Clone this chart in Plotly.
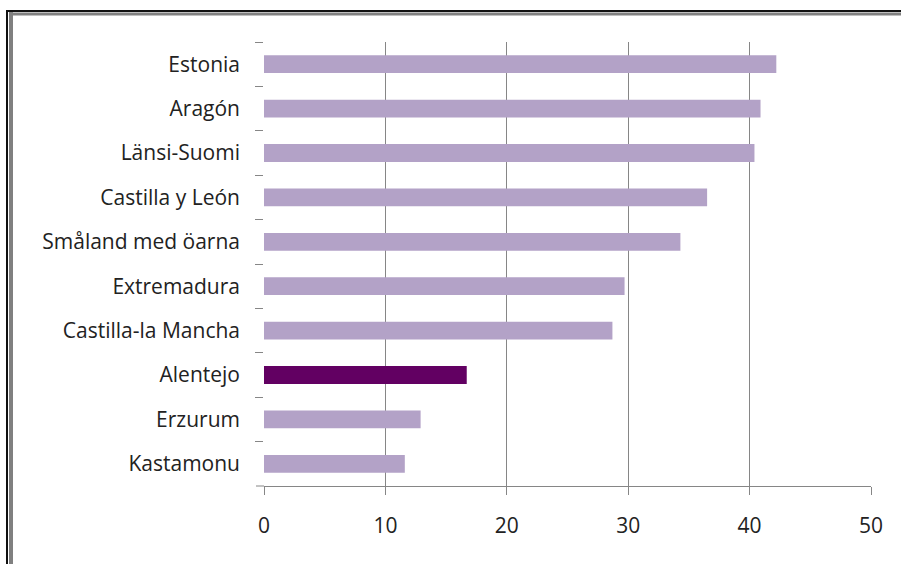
import plotly.graph_objects as go

# Regions, top to bottom, and their values
regions = ["Estonia", "Aragón", "Länsi-Suomi", "Castilla y León", "Småland med öarna",
           "Extremadura", "Castilla-la Mancha", "Alentejo", "Erzurum", "Kastamonu"]
values = [42.2, 40.9, 40.4, 36.5, 34.3, 29.7, 28.7, 16.7, 12.9, 11.6]
highlight = "Alentejo"
x_ticks = [0, 10, 20, 30, 40, 50]

BASE = "#B3A2C7"
HIGH = "#620062"
GRID = "#868686"

W, H = 901, 564
L, R, T, B = 264, 30, 42, 78
pw, ph = W - L - R, H - T - B

def px(x):
    return (x - L) / pw

def py(y):
    return (H - B - y) / ph

fig = go.Figure(go.Bar(
    y=regions,
    x=values,
    orientation="h",
    marker=dict(color=[HIGH if r == highlight else BASE for r in regions], line_width=0),
    width=0.4,
    hoverinfo="x+y",
))

# Double frame (dark outer line, grey inner line) on the top and left edges
frame = [
    (6, 10, 8, H + 5, "#111111"),
    (9, 12, 13, H + 5, "#808080"),
    (6, 10, W + 5, 12, "#111111"),
    (9, 12.5, W + 5, 15.5, "#808080"),
]
shapes = [dict(type="rect", xref="paper", yref="paper",
               x0=px(a), x1=px(c), y0=py(b), y1=py(d),
               fillcolor=col, line_width=0, layer="above")
          for a, b, c, d, col in frame]

# Short extension of the value axis to the left of zero
shapes.append(dict(type="line", xref="paper", yref="paper",
                   x0=px(256), x1=0, y0=0, y1=0,
                   line=dict(color=GRID, width=1)))

fig.update_layout(
    width=W, height=H,
    margin=dict(l=L, r=R, t=T, b=B, pad=0),
    paper_bgcolor="white",
    plot_bgcolor="white",
    showlegend=False,
    bargap=0.6,
    font=dict(family="Open Sans", size=21, color="#222222"),
    shapes=shapes,
    xaxis=dict(
        range=[0, 50],
        tickvals=x_ticks,
        showgrid=True, gridcolor=GRID, gridwidth=1,
        zeroline=False,
        showline=True, linecolor=GRID, linewidth=1,
        ticks="outside", ticklen=8, tickcolor=GRID, tickwidth=1,
        ticklabelstandoff=13,
        fixedrange=True,
    ),
    yaxis=dict(
        autorange="reversed",
        type="category",
        showgrid=False, zeroline=False, showline=False,
        ticks="outside", ticklen=8, tickcolor=GRID, tickwidth=1,
        tickson="boundaries",
        ticklabelstandoff=23,
        fixedrange=True,
    ),
)

fig.write_html("out.html")
